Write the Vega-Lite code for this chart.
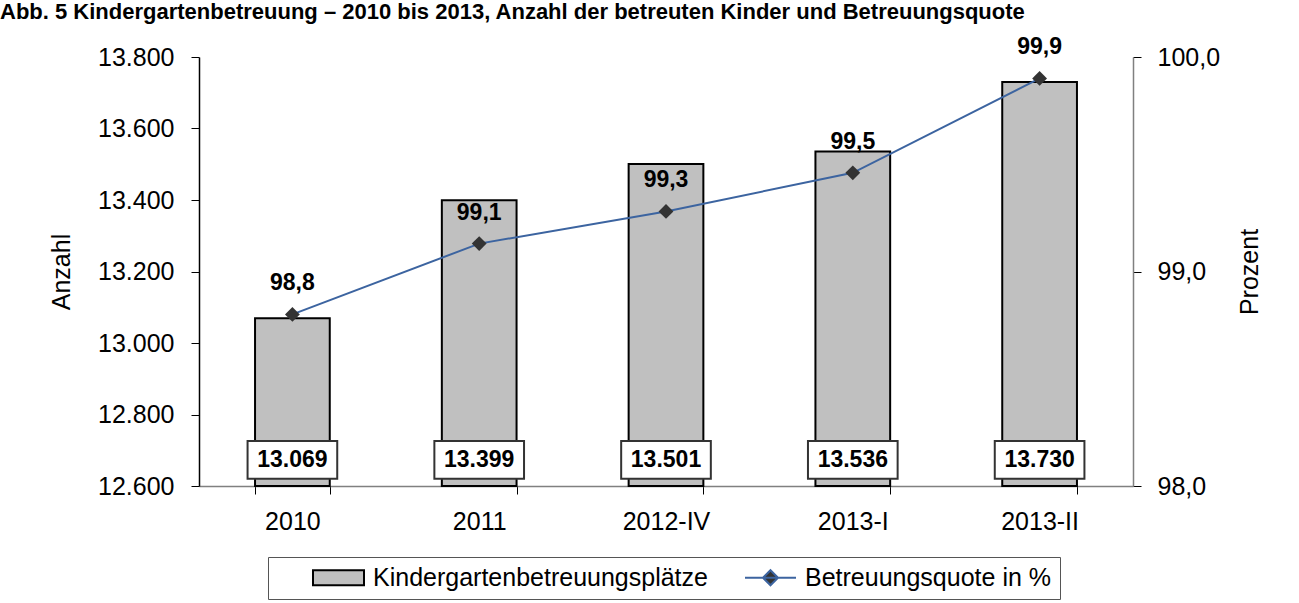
{
  "$schema": "https://vega.github.io/schema/vega-lite/v6.json",
  "width": 934,
  "height": 429,
  "autosize": "none",
  "padding": {"left": 199, "top": 57, "right": 166, "bottom": 117},
  "background": "white",
  "title": {
    "text": "Abb. 5 Kindergartenbetreuung – 2010 bis 2013, Anzahl der betreuten Kinder und Betreuungsquote",
    "anchor": "start",
    "frame": "group",
    "dx": -199,
    "dy": 5,
    "font": "Liberation Sans",
    "fontSize": 22,
    "fontWeight": "bold",
    "color": "#000",
    "baseline": "alphabetic",
    "offset": 0
  },
  "config": {
    "locale": {"number": {"decimal": ",", "thousands": ".", "grouping": [3], "currency": ["", " €"]}},
    "view": {"stroke": null},
    "font": "Liberation Sans"
  },
  "data": {
    "values": [
      {"cat": "2010", "anzahl": 13069, "quote": 98.8},
      {"cat": "2011", "anzahl": 13399, "quote": 99.13},
      {"cat": "2012-IV", "anzahl": 13501, "quote": 99.28},
      {"cat": "2013-I", "anzahl": 13536, "quote": 99.46},
      {"cat": "2013-II", "anzahl": 13730, "quote": 99.9}
    ]
  },
  "encoding": {
    "x": {
      "field": "cat",
      "type": "nominal",
      "sort": null,
      "scale": {"paddingInner": 0.6, "paddingOuter": 0.3},
      "axis": {
        "title": null,
        "labelAngle": 0,
        "labelFont": "Liberation Sans",
        "labelFontSize": 25,
        "labelColor": "#000",
        "labelPadding": 15,
        "tickBand": "extent",
        "tickSize": 8,
        "tickColor": "#000",
        "domainColor": "#808080",
        "domainWidth": 1.5,
        "grid": false
      }
    }
  },
  "layer": [
    {
      "encoding": {
        "y": {
          "field": "anzahl",
          "type": "quantitative",
          "scale": {"domain": [12600, 13800], "zero": false, "nice": false},
          "axis": {
            "title": "Anzahl",
            "titleFont": "Liberation Sans",
            "titleFontSize": 25,
            "titleFontWeight": "normal",
            "titleColor": "#000",
            "titlePadding": 23,
            "values": [12600, 12800, 13000, 13200, 13400, 13600, 13800],
            "format": ",.0f",
            "labelFont": "Liberation Sans",
            "labelFontSize": 25,
            "labelColor": "#000",
            "labelPadding": 17,
            "tickSize": 8,
            "tickColor": "#000",
            "domainColor": "#000",
            "domainWidth": 1.5,
            "grid": false
          }
        }
      },
      "layer": [
        {
          "mark": {"type": "bar", "fill": "#c0c0c0", "stroke": "#000", "strokeWidth": 2},
          "encoding": {
            "y2": {"datum": 12600}
          }
        },
        {
          "mark": {"type": "bar", "fill": "white", "stroke": "#333", "strokeWidth": 2, "width": {"band": 1.2}},
          "encoding": {
            "y": {"datum": 12620},
            "y2": {"datum": 12726}
          }
        },
        {
          "mark": {"type": "text", "font": "Liberation Sans", "fontSize": 23, "fontWeight": "bold", "color": "#000", "baseline": "middle"},
          "encoding": {
            "y": {"datum": 12673},
            "text": {"field": "anzahl", "type": "quantitative", "format": ",.0f"}
          }
        },
        {
          "data": {
            "values": [
              {"cat": "2010", "series": "Kindergartenbetreuungsplätze"},
              {"cat": "2010", "series": "Betreuungsquote in %"}
            ]
          },
          "mark": {"type": "point", "filled": true, "opacity": 0},
          "encoding": {
            "y": {"datum": 13000},
            "color": {
              "field": "series",
              "type": "nominal",
              "scale": {
                "domain": ["Kindergartenbetreuungsplätze", "Betreuungsquote in %"],
                "range": ["#c0c0c0", "#333333"]
              },
              "legend": {
                "orient": "none",
                "legendX": 69,
                "legendY": 500,
                "direction": "horizontal",
                "columns": 2,
                "padding": 8,
                "strokeColor": "#555",
                "symbolSize": 400,
                "symbolOffset": 50,
                "symbolOpacity": 1,
                "symbolStrokeWidth": 2,
                "labelOffset": 22,
                "columnPadding": -9,
                "labelFont": "Liberation Sans",
                "labelFontSize": 25,
                "labelColor": "#000",
                "labelLimit": 600,
                "title": null
              }
            },
            "stroke": {
              "field": "series",
              "type": "nominal",
              "scale": {
                "domain": ["Kindergartenbetreuungsplätze", "Betreuungsquote in %"],
                "range": ["#000000", "#3c64a0"]
              },
              "legend": {
                "orient": "none",
                "legendX": 69,
                "legendY": 500,
                "direction": "horizontal",
                "columns": 2,
                "padding": 8,
                "strokeColor": "#555",
                "symbolSize": 400,
                "symbolOffset": 50,
                "symbolOpacity": 1,
                "symbolStrokeWidth": 2,
                "labelOffset": 22,
                "columnPadding": -9,
                "labelFont": "Liberation Sans",
                "labelFontSize": 25,
                "labelColor": "#000",
                "labelLimit": 600,
                "title": null
              }
            },
            "shape": {
              "field": "series",
              "type": "nominal",
              "scale": {
                "domain": ["Kindergartenbetreuungsplätze", "Betreuungsquote in %"],
                "range": ["M-2.55,-0.75H2.55V0.75H-2.55Z", "M-2.55,0H2.55M0,-0.75L0.75,0L0,0.75L-0.75,0Z"]
              },
              "legend": {
                "orient": "none",
                "legendX": 69,
                "legendY": 500,
                "direction": "horizontal",
                "columns": 2,
                "padding": 8,
                "strokeColor": "#555",
                "symbolSize": 400,
                "symbolOffset": 50,
                "symbolOpacity": 1,
                "symbolStrokeWidth": 2,
                "labelOffset": 22,
                "columnPadding": -9,
                "labelFont": "Liberation Sans",
                "labelFontSize": 25,
                "labelColor": "#000",
                "labelLimit": 600,
                "title": null
              }
            }
          }
        }
      ]
    },
    {
      "encoding": {
        "y": {
          "field": "quote",
          "type": "quantitative",
          "scale": {"domain": [98, 100], "zero": false, "nice": false},
          "axis": {
            "orient": "right",
            "title": "Prozent",
            "titleAngle": 270,
            "titleBaseline": "top",
            "titleFont": "Liberation Sans",
            "titleFontSize": 25,
            "titleFontWeight": "normal",
            "titleColor": "#000",
            "titlePadding": 18,
            "values": [98, 99, 100],
            "format": ".1f",
            "labelFont": "Liberation Sans",
            "labelFontSize": 25,
            "labelColor": "#000",
            "labelPadding": 16,
            "tickSize": 8,
            "tickColor": "#000",
            "domainColor": "#808080",
            "domainWidth": 1.5,
            "grid": false
          }
        }
      },
      "layer": [
        {
          "mark": {"type": "line", "strokeWidth": 2, "color": "#3c64a0"},
          "encoding": {}
        },
        {
          "mark": {"type": "point", "shape": "diamond", "filled": true, "color": "#333333", "size": 220, "opacity": 1},
          "encoding": {}
        },
        {
          "mark": {"type": "text", "font": "Liberation Sans", "fontSize": 23, "fontWeight": "bold", "color": "#000", "baseline": "middle", "dy": -31},
          "encoding": {
            "text": {"field": "quote", "type": "quantitative", "format": ".1f"}
          }
        }
      ]
    }
  ],
  "resolve": {"scale": {"y": "independent"}}
}
